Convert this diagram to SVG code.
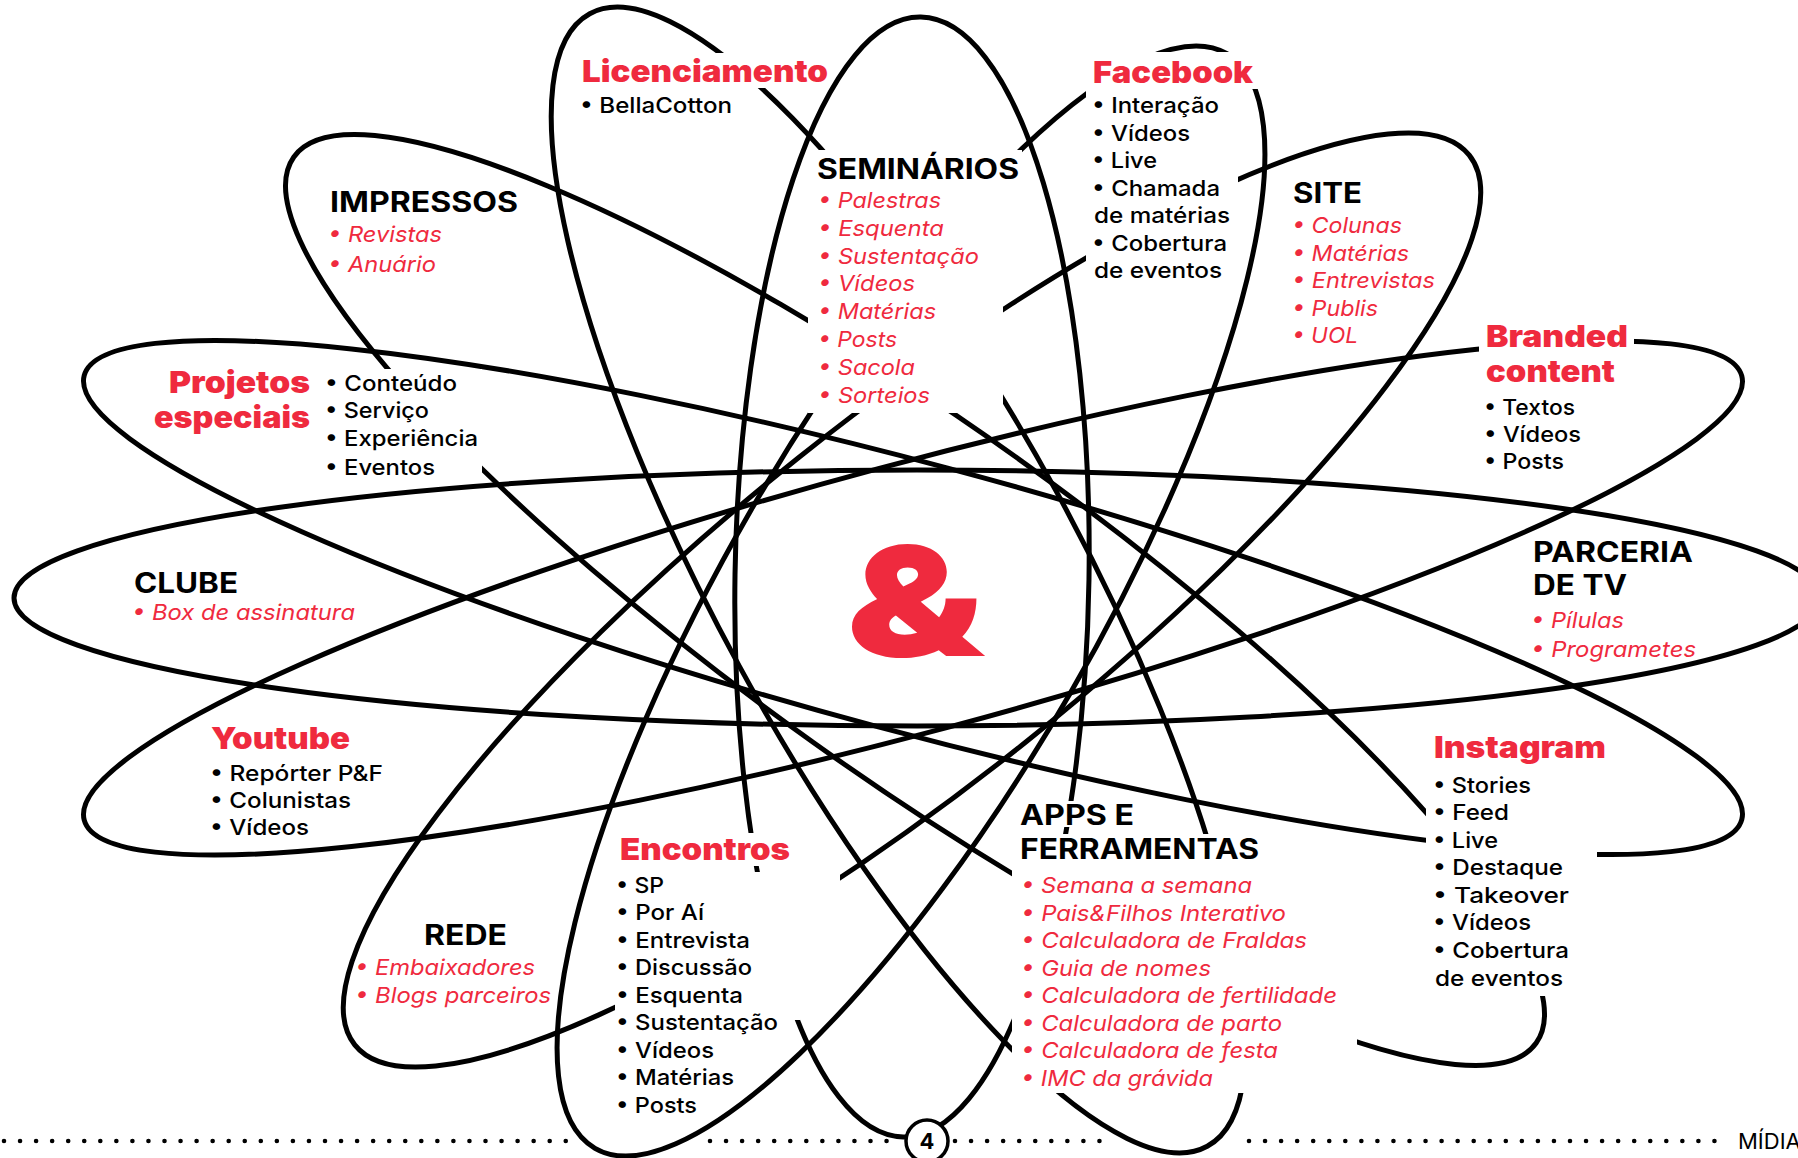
<svg xmlns="http://www.w3.org/2000/svg" width="1798" height="1158" viewBox="0 0 1798 1158">
<style>
.orbit{fill:none;stroke:#000;stroke-width:5}
.ko{fill:#fff;stroke:none}
text{font-family:Inter,'Noto Sans','DejaVu Sans',sans-serif}
.h{font-weight:700;font-size:28px;fill:#000}
.hr{font-weight:900;font-size:30px;fill:#EF2A3E}
.i{font-weight:500;font-size:22px;fill:#000}
.ir{font-style:italic;font-weight:400;font-size:22px;fill:#EF2A3E}
.dots{stroke:#000;stroke-width:4.6;stroke-linecap:round;stroke-dasharray:0 16.05;fill:none}
</style>
<rect width="1798" height="1158" fill="#fff"/>
<g id="orbits">
<ellipse class="orbit" cx="917" cy="598" rx="903" ry="128"/>
<ellipse class="orbit" cx="913" cy="597.5" rx="858" ry="134" transform="rotate(15 913 597.5)"/>
<ellipse class="orbit" cx="913" cy="598" rx="858" ry="134" transform="rotate(-15 913 598)"/>
<ellipse class="orbit" cx="898.5" cy="580" rx="645" ry="181" transform="rotate(61.4 898.5 580)"/>
<ellipse class="orbit" cx="911" cy="601" rx="632" ry="184" transform="rotate(-60 911 601)"/>
<ellipse class="orbit" cx="912" cy="577" rx="177" ry="560" transform="rotate(0.9 912 577)"/>
<ellipse class="orbit" cx="915" cy="600" rx="763" ry="175" transform="rotate(35.5 915 600)"/>
<ellipse class="orbit" cx="912" cy="600" rx="713" ry="182" transform="rotate(-38.6 912 600)"/>
</g>
<g id="footer">
<line class="dots" x1="4" y1="1141" x2="574" y2="1141"/>
<line class="dots" x1="710" y1="1141" x2="890" y2="1141"/>
<line class="dots" x1="955" y1="1141" x2="1100" y2="1141"/>
<line class="dots" x1="1249" y1="1141" x2="1716" y2="1141"/>
<circle cx="927" cy="1141" r="21" fill="#fff" stroke="#000" stroke-width="3.5"/>
<text x="927" y="1149" text-anchor="middle" style="font-weight:700;font-size:22px;fill:#000">4</text>
<text x="1738" y="1149" style="font-weight:400;font-size:22px;fill:#000">MÍDIA</text>
</g>
<g id="center">
<text x="846" y="656" style="font-weight:900;font-size:152px;fill:#EF2A3E" textLength="138" lengthAdjust="spacingAndGlyphs">&amp;</text>
</g>
<g id="licenciamento">
<rect class="ko" x="576" y="53" width="250" height="35"/>
<text class="hr" x="582" y="82" textLength="246" lengthAdjust="spacingAndGlyphs">Licenciamento</text>
<text class="i" x="580" y="113" textLength="152" lengthAdjust="spacingAndGlyphs">• BellaCotton</text>
</g>
<g id="seminarios">
<rect class="ko" x="812" y="150" width="210" height="38"/>
<rect class="ko" x="808" y="188" width="195" height="225"/>
<text class="h" x="817" y="179" textLength="202" lengthAdjust="spacingAndGlyphs">SEMINÁRIOS</text>
<text class="ir" x="818" y="208" textLength="123" lengthAdjust="spacingAndGlyphs">• Palestras</text>
<text class="ir" x="818" y="236" textLength="126" lengthAdjust="spacingAndGlyphs">• Esquenta</text>
<text class="ir" x="818" y="264" textLength="161" lengthAdjust="spacingAndGlyphs">• Sustentação</text>
<text class="ir" x="818" y="291" textLength="97" lengthAdjust="spacingAndGlyphs">• Vídeos</text>
<text class="ir" x="818" y="319" textLength="118" lengthAdjust="spacingAndGlyphs">• Matérias</text>
<text class="ir" x="818" y="347" textLength="79" lengthAdjust="spacingAndGlyphs">• Posts</text>
<text class="ir" x="818" y="375" textLength="97" lengthAdjust="spacingAndGlyphs">• Sacola</text>
<text class="ir" x="818" y="403" textLength="112" lengthAdjust="spacingAndGlyphs">• Sorteios</text>
</g>
<g id="facebook">
<rect class="ko" x="1088" y="52" width="170" height="37"/>
<rect class="ko" x="1086" y="89" width="152" height="196"/>
<text class="hr" x="1093" y="83" textLength="160" lengthAdjust="spacingAndGlyphs">Facebook</text>
<text class="i" x="1092" y="113" textLength="127" lengthAdjust="spacingAndGlyphs">• Interação</text>
<text class="i" x="1092" y="141" textLength="98" lengthAdjust="spacingAndGlyphs">• Vídeos</text>
<text class="i" x="1092" y="168" textLength="65" lengthAdjust="spacingAndGlyphs">• Live</text>
<text class="i" x="1092" y="196" textLength="128" lengthAdjust="spacingAndGlyphs">• Chamada</text>
<text class="i" x="1094" y="223" textLength="136" lengthAdjust="spacingAndGlyphs">de matérias</text>
<text class="i" x="1092" y="251" textLength="135" lengthAdjust="spacingAndGlyphs">• Cobertura</text>
<text class="i" x="1094" y="278" textLength="128" lengthAdjust="spacingAndGlyphs">de eventos</text>
</g>
<g id="site">
<text class="h" x="1293" y="203" textLength="69" lengthAdjust="spacingAndGlyphs">SITE</text>
<text class="ir" x="1292" y="233" textLength="110" lengthAdjust="spacingAndGlyphs">• Colunas</text>
<text class="ir" x="1292" y="261" textLength="117" lengthAdjust="spacingAndGlyphs">• Matérias</text>
<text class="ir" x="1292" y="288" textLength="143" lengthAdjust="spacingAndGlyphs">• Entrevistas</text>
<text class="ir" x="1292" y="316" textLength="86" lengthAdjust="spacingAndGlyphs">• Publis</text>
<text class="ir" x="1292" y="343" textLength="66" lengthAdjust="spacingAndGlyphs">• UOL</text>
</g>
<g id="branded">
<rect class="ko" x="1479" y="319" width="155" height="69"/>
<text class="hr" x="1486" y="347" textLength="142" lengthAdjust="spacingAndGlyphs">Branded</text>
<text class="hr" x="1486" y="382" textLength="129" lengthAdjust="spacingAndGlyphs">content</text>
<text class="i" x="1484" y="415" textLength="91" lengthAdjust="spacingAndGlyphs">• Textos</text>
<text class="i" x="1484" y="442" textLength="97" lengthAdjust="spacingAndGlyphs">• Vídeos</text>
<text class="i" x="1484" y="469" textLength="80" lengthAdjust="spacingAndGlyphs">• Posts</text>
</g>
<g id="impressos">
<text class="h" x="330" y="212" textLength="188" lengthAdjust="spacingAndGlyphs">IMPRESSOS</text>
<text class="ir" x="328" y="242" textLength="114" lengthAdjust="spacingAndGlyphs">• Revistas</text>
<text class="ir" x="328" y="272" textLength="108" lengthAdjust="spacingAndGlyphs">• Anuário</text>
</g>
<g id="projetos">
<rect class="ko" x="323" y="369" width="159" height="113"/>
<text class="hr" x="169" y="393" textLength="141" lengthAdjust="spacingAndGlyphs">Projetos</text>
<text class="hr" x="154" y="428" textLength="156" lengthAdjust="spacingAndGlyphs">especiais</text>
<text class="i" x="325" y="391" textLength="132" lengthAdjust="spacingAndGlyphs">• Conteúdo</text>
<text class="i" x="325" y="418" textLength="104" lengthAdjust="spacingAndGlyphs">• Serviço</text>
<text class="i" x="325" y="446" textLength="153" lengthAdjust="spacingAndGlyphs">• Experiência</text>
<text class="i" x="325" y="475" textLength="110" lengthAdjust="spacingAndGlyphs">• Eventos</text>
</g>
<g id="clube">
<text class="h" x="134" y="593" textLength="104" lengthAdjust="spacingAndGlyphs">CLUBE</text>
<text class="ir" x="132" y="620" textLength="223" lengthAdjust="spacingAndGlyphs">• Box de assinatura</text>
</g>
<g id="parceria">
<text class="h" x="1533" y="562" textLength="160" lengthAdjust="spacingAndGlyphs">PARCERIA</text>
<text class="h" x="1533" y="595" textLength="94" lengthAdjust="spacingAndGlyphs">DE TV</text>
<text class="ir" x="1531" y="628" textLength="93" lengthAdjust="spacingAndGlyphs">• Pílulas</text>
<text class="ir" x="1531" y="657" textLength="165" lengthAdjust="spacingAndGlyphs">• Programetes</text>
</g>
<g id="youtube">
<text class="hr" x="211" y="749" textLength="139" lengthAdjust="spacingAndGlyphs">Youtube</text>
<text class="i" x="210" y="781" textLength="173" lengthAdjust="spacingAndGlyphs">• Repórter P&amp;F</text>
<text class="i" x="210" y="808" textLength="141" lengthAdjust="spacingAndGlyphs">• Colunistas</text>
<text class="i" x="210" y="835" textLength="99" lengthAdjust="spacingAndGlyphs">• Vídeos</text>
</g>
<g id="rede">
<text class="h" x="424" y="945" textLength="83" lengthAdjust="spacingAndGlyphs">REDE</text>
<text class="ir" x="355" y="975" textLength="180" lengthAdjust="spacingAndGlyphs">• Embaixadores</text>
<text class="ir" x="355" y="1003" textLength="196" lengthAdjust="spacingAndGlyphs">• Blogs parceiros</text>
</g>
<g id="encontros">
<rect class="ko" x="615" y="833" width="181" height="33"/>
<path class="ko" d="M615,872 H800 V866 H840 V912 H800 V1020 H790 V1040 H745 V1095 H705 V1124 H615 Z"/>
<text class="hr" x="620" y="860" textLength="170" lengthAdjust="spacingAndGlyphs">Encontros</text>
<text class="i" x="616" y="893" textLength="48" lengthAdjust="spacingAndGlyphs">• SP</text>
<text class="i" x="616" y="920" textLength="88" lengthAdjust="spacingAndGlyphs">• Por Aí</text>
<text class="i" x="616" y="948" textLength="134" lengthAdjust="spacingAndGlyphs">• Entrevista</text>
<text class="i" x="616" y="975" textLength="136" lengthAdjust="spacingAndGlyphs">• Discussão</text>
<text class="i" x="616" y="1003" textLength="127" lengthAdjust="spacingAndGlyphs">• Esquenta</text>
<text class="i" x="616" y="1030" textLength="162" lengthAdjust="spacingAndGlyphs">• Sustentação</text>
<text class="i" x="616" y="1058" textLength="98" lengthAdjust="spacingAndGlyphs">• Vídeos</text>
<text class="i" x="616" y="1085" textLength="118" lengthAdjust="spacingAndGlyphs">• Matérias</text>
<text class="i" x="616" y="1113" textLength="81" lengthAdjust="spacingAndGlyphs">• Posts</text>
</g>
<g id="apps">
<rect class="ko" x="1016" y="801" width="122" height="26"/>
<rect class="ko" x="1016" y="834" width="247" height="32"/>
<rect class="ko" x="1012" y="866" width="345" height="227"/>
<text class="h" x="1020" y="825" textLength="114" lengthAdjust="spacingAndGlyphs">APPS E</text>
<text class="h" x="1020" y="859" textLength="239" lengthAdjust="spacingAndGlyphs">FERRAMENTAS</text>
<text class="ir" x="1021" y="893" textLength="231" lengthAdjust="spacingAndGlyphs">• Semana a semana</text>
<text class="ir" x="1021" y="921" textLength="265" lengthAdjust="spacingAndGlyphs">• Pais&amp;Filhos Interativo</text>
<text class="ir" x="1021" y="948" textLength="286" lengthAdjust="spacingAndGlyphs">• Calculadora de Fraldas</text>
<text class="ir" x="1021" y="976" textLength="190" lengthAdjust="spacingAndGlyphs">• Guia de nomes</text>
<text class="ir" x="1021" y="1003" textLength="316" lengthAdjust="spacingAndGlyphs">• Calculadora de fertilidade</text>
<text class="ir" x="1021" y="1031" textLength="261" lengthAdjust="spacingAndGlyphs">• Calculadora de parto</text>
<text class="ir" x="1021" y="1058" textLength="257" lengthAdjust="spacingAndGlyphs">• Calculadora de festa</text>
<text class="ir" x="1021" y="1086" textLength="192" lengthAdjust="spacingAndGlyphs">• IMC da grávida</text>
</g>
<g id="instagram">
<rect class="ko" x="1426" y="731" width="171" height="265"/>
<text class="hr" x="1434" y="758" textLength="172" lengthAdjust="spacingAndGlyphs">Instagram</text>
<text class="i" x="1433" y="793" textLength="98" lengthAdjust="spacingAndGlyphs">• Stories</text>
<text class="i" x="1433" y="820" textLength="76" lengthAdjust="spacingAndGlyphs">• Feed</text>
<text class="i" x="1433" y="848" textLength="65" lengthAdjust="spacingAndGlyphs">• Live</text>
<text class="i" x="1433" y="875" textLength="130" lengthAdjust="spacingAndGlyphs">• Destaque</text>
<text class="i" x="1433" y="903" textLength="136" lengthAdjust="spacingAndGlyphs">• Takeover</text>
<text class="i" x="1433" y="930" textLength="98" lengthAdjust="spacingAndGlyphs">• Vídeos</text>
<text class="i" x="1433" y="958" textLength="136" lengthAdjust="spacingAndGlyphs">• Cobertura</text>
<text class="i" x="1435" y="986" textLength="128" lengthAdjust="spacingAndGlyphs">de eventos</text>
</g>
</svg>
